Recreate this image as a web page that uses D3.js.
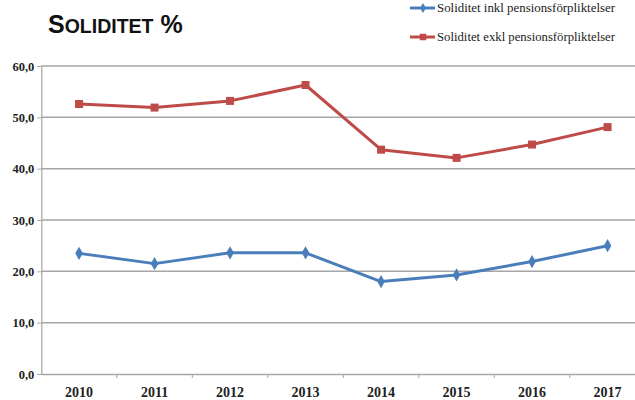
<!DOCTYPE html>
<html><head><meta charset="utf-8">
<script src="https://cdn.jsdelivr.net/npm/d3@7"></script>
<style>body{margin:0;background:#fff}svg{display:block}
.serif{font-family:"Liberation Serif","Times New Roman",serif}</style>
</head><body><div id="chart"></div>
<script>
const years = ["2010","2011","2012","2013","2014","2015","2016","2017"];
const inkl = [23.5, 21.5, 23.6, 23.6, 18.0, 19.3, 21.9, 25.0];
const exkl = [52.6, 51.9, 53.2, 56.3, 43.7, 42.1, 44.7, 48.1];
const yTicks = [0, 10, 20, 30, 40, 50, 60];
const seriesNames = ["Soliditet inkl pensionsförpliktelser", "Soliditet exkl pensionsförpliktelser"];

const W = 635, H = 400;
const svg = d3.select("#chart").append("svg").attr("width", W).attr("height", H);

const x = d3.scaleBand().domain(years).range([41.3, 645.3]);
const y = d3.scaleLinear().domain([0, 60]).range([374, 66]);

// gridlines
svg.append("g").selectAll("line").data(yTicks.filter(d => d > 0)).join("line")
  .attr("x1", 41.3).attr("x2", W).attr("y1", d => y(d)).attr("y2", d => y(d))
  .attr("stroke", "#a6a6a6").attr("stroke-width", 1.5);

// y axis
const yAxis = svg.append("g").attr("transform", "translate(41.3,0)")
  .call(d3.axisLeft(y).tickValues(yTicks).tickSize(4).tickPadding(3)
    .tickFormat(d => d3.format(".1f")(d).replace(".", ",")));
yAxis.attr("font-family", null);
yAxis.select(".domain").attr("stroke", "#a6a6a6").attr("stroke-width", 1.2);
yAxis.selectAll(".tick line").attr("stroke", "#a6a6a6");
yAxis.selectAll("text").attr("class", "serif")
  .style("font-weight", "bold").style("font-size", "12.5px").attr("fill", "#222");

// x axis
const xAxis = svg.append("g").attr("transform", "translate(0,374)")
  .call(d3.axisBottom(x).tickSize(0).tickPadding(13));
xAxis.attr("font-family", null);
xAxis.select(".domain").attr("stroke", "#a6a6a6").attr("stroke-width", 1.5);
xAxis.selectAll("text").attr("class", "serif")
  .style("font-weight", "bold").style("font-size", "14px").attr("fill", "#222");
// boundary ticks between categories
svg.append("g").selectAll("line").data(years.slice(1)).join("line")
  .attr("x1", d => x(d)).attr("x2", d => x(d)).attr("y1", 374).attr("y2", 378)
  .attr("stroke", "#a6a6a6");

const line = d3.line().x((d, i) => x(years[i]) + x.bandwidth() / 2).y(d => y(d));
const blue = "#4a7ebb", red = "#be4b48";

svg.append("path").datum(inkl).attr("d", line).attr("fill", "none")
  .attr("stroke", blue).attr("stroke-width", 3).attr("stroke-linejoin", "round");
svg.append("path").datum(exkl).attr("d", line).attr("fill", "none")
  .attr("stroke", red).attr("stroke-width", 3).attr("stroke-linejoin", "round");

const diamond = d3.symbol().type(d3.symbolDiamond).size(50);
const square = d3.symbol().type(d3.symbolSquare).size(64);

svg.append("g").selectAll("path").data(inkl).join("path")
  .attr("d", diamond)
  .attr("transform", (d, i) => `translate(${x(years[i]) + x.bandwidth() / 2},${y(d)})`)
  .attr("fill", blue);
svg.append("g").selectAll("path").data(exkl).join("path")
  .attr("d", square)
  .attr("transform", (d, i) => `translate(${x(years[i]) + x.bandwidth() / 2},${y(d)})`)
  .attr("fill", red);

// title
const t = svg.append("text").attr("x", 48).attr("y", 33)
  .style("font-family", "'Liberation Sans', Arial, sans-serif").style("font-weight", "bold").attr("fill", "#111");
t.append("tspan").style("font-size", "25px").text("S");
t.append("tspan").style("font-size", "19.5px").text("OLIDITET");
t.append("tspan").style("font-size", "25px").text(" %");

// legend
const legend = svg.append("g");
const legY = [8, 37];
const legCol = [blue, red];
const legSym = [d3.symbol().type(d3.symbolDiamond).size(30), d3.symbol().type(d3.symbolSquare).size(42)];
seriesNames.forEach((name, i) => {
  const g = legend.append("g").attr("transform", `translate(0,${legY[i]})`);
  g.append("line").attr("x1", 410).attr("x2", 435).attr("stroke", legCol[i]).attr("stroke-width", 3);
  g.append("path").attr("d", legSym[i]).attr("transform", "translate(423,0)").attr("fill", legCol[i]);
  g.append("text").attr("class", "serif").attr("x", 437).attr("y", 4).text(name)
    .style("font-size", "11.5px").attr("fill", "#222")
    .attr("textLength", 178).attr("lengthAdjust", "spacingAndGlyphs");
});
</script></body></html>
